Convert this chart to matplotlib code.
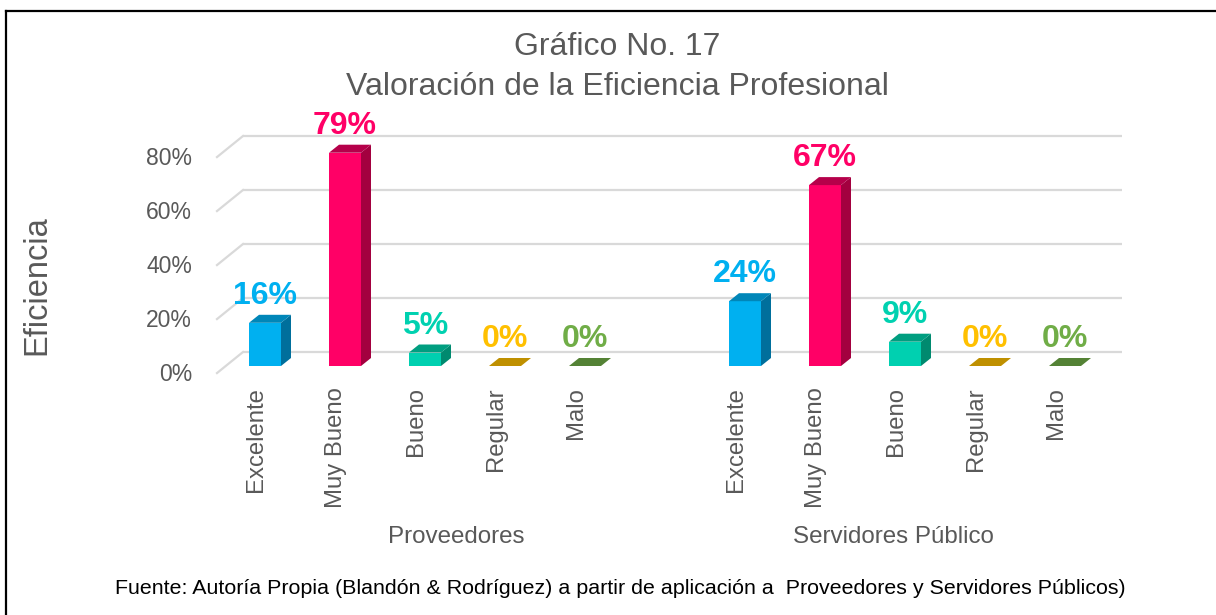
import matplotlib
matplotlib.use("Agg")
import matplotlib.pyplot as plt
from matplotlib.patches import Polygon
from matplotlib.lines import Line2D

# ---------------- data ----------------
groups = ["Proveedores", "Servidores Público"]
categories = ["Excelente", "Muy Bueno", "Bueno", "Regular", "Malo"]
proveedores = [16, 79, 5, 0, 0]
servidores = [24, 67, 9, 0, 0]
y_ticks = [0, 20, 40, 60, 80]
y_tick_labels = ["0%", "20%", "40%", "60%", "80%"]

title_lines = ["Gráfico No. 17", "Valoración de la Eficiencia Profesional"]
y_label = "Eficiencia"
footer = "Fuente: Autoría Propia (Blandón & Rodríguez) a partir de aplicación a  Proveedores y Servidores Públicos)"

# ---------------- style ----------------
front_col = ["#00B0F0", "#FF0066", "#00D0B0", "#FFC000", "#70AD47"]
side_col = ["#006F9C", "#A3003F", "#008A6F", "#9A7400", "#3F6328"]
top_col = ["#0086B8", "#B5004A", "#009E80", "#BF9000", "#548235"]
label_col = ["#00B0F0", "#FF0066", "#00D1B0", "#FFC000", "#70AD47"]
grey = "#595959"
grid_col = "#D9D9D9"

plt.rcParams["font.family"] = ["Liberation Sans", "DejaVu Sans"]

W, H = 1216, 615
fig = plt.figure(figsize=(W / 100, H / 100), dpi=100)
ax = fig.add_axes([0, 0, 1, 1])
# scale: 80 px per category slot, 2.7 px per percent; bar base at px (265, 366)
x0_px, y0_px, sx, sy = 265, 366, 80.0, 2.7
ax.set_xlim(-x0_px / sx, (W - x0_px) / sx)
ax.set_ylim((y0_px - H) / sy, y0_px / sy)
ax.axis("off")

bw = 0.4          # bar front width (slots)
ddx, ddy = 10 / sx, 8 / sy       # bar depth
bk_dy = 14 / sy                  # back wall offset from bar base

pos_groups = [[0, 1, 2, 3, 4], [6, 7, 8, 9, 10]]
values = [proveedores, servidores]

wall_left = -0.6 + 0.325
wall_right = 10.71
front_left = -0.6

# gridlines on the back wall + left side wall diagonals
for v, lab in zip(y_ticks, y_tick_labels):
    ax.plot([wall_left, wall_right], [v + bk_dy, v + bk_dy], color=grid_col, lw=1.6, zorder=1, solid_capstyle="butt")
    ax.plot([front_left, wall_left], [v + bk_dy - 7.8, v + bk_dy], color=grid_col, lw=1.6, zorder=1)
    ax.text(-0.91, v + bk_dy - 7.8 - 0.6, lab, ha="right", va="center", fontsize=16.5, color=grey)

# bars
for gi, (pos, vals) in enumerate(zip(pos_groups, values)):
    for ci, (p, v) in enumerate(zip(pos, vals)):
        xl, xr = p - bw / 2, p + bw / 2
        if v > 0:
            ax.bar(p, v, width=bw, color=front_col[ci], zorder=3, linewidth=0)
            ax.add_patch(Polygon([(xr, 0), (xr + ddx, ddy), (xr + ddx, v + ddy), (xr, v)],
                                 closed=True, facecolor=side_col[ci], edgecolor="none", zorder=3))
        ax.add_patch(Polygon([(xl, v), (xr, v), (xr + ddx, v + ddy), (xl + ddx, v + ddy)],
                             closed=True, facecolor=top_col[ci], edgecolor="none", zorder=3))
        ax.text(p, v + ddy + 4.0, f"{v}%", ha="center", va="baseline", fontsize=23,
                fontweight="bold", color=label_col[ci], zorder=4)
        ax.text(p - 0.115, -7.8, categories[ci], rotation=90, ha="center", va="top",
                fontsize=17.2, color=grey)

# group labels
group_x = [2.39, 7.86]
for gx, g in zip(group_x, groups):
    ax.text(gx, (y0_px - 537) / sy, g, ha="center", va="center", fontsize=17.4, color=grey)

# y-axis title
ax.text((37 - x0_px) / sx, (y0_px - 285) / sy, y_label, rotation=90, ha="center", va="center",
        fontsize=23.5, color=grey)

# chart title
fig.text(617 / W, 1 - 47 / H, title_lines[0], ha="center", va="center", fontsize=23, color=grey)
fig.text(617 / W, 1 - 87 / H, title_lines[1], ha="center", va="center", fontsize=23, color=grey)

# footer
fig.text(620 / W, 1 - 588 / H, footer, ha="center", va="center", fontsize=15.4,
         color="black", family=["Liberation Sans Narrow", "Liberation Sans", "DejaVu Sans"])

# frame (top and left borders)
fig.add_artist(Line2D([6 / W, 1], [1 - 10.5 / H, 1 - 10.5 / H], color="black", lw=1.6, transform=fig.transFigure))
fig.add_artist(Line2D([6 / W, 6 / W], [1 - 10.5 / H, 0], color="black", lw=1.6, transform=fig.transFigure))

fig.savefig("out.png", dpi=100, facecolor="white")
